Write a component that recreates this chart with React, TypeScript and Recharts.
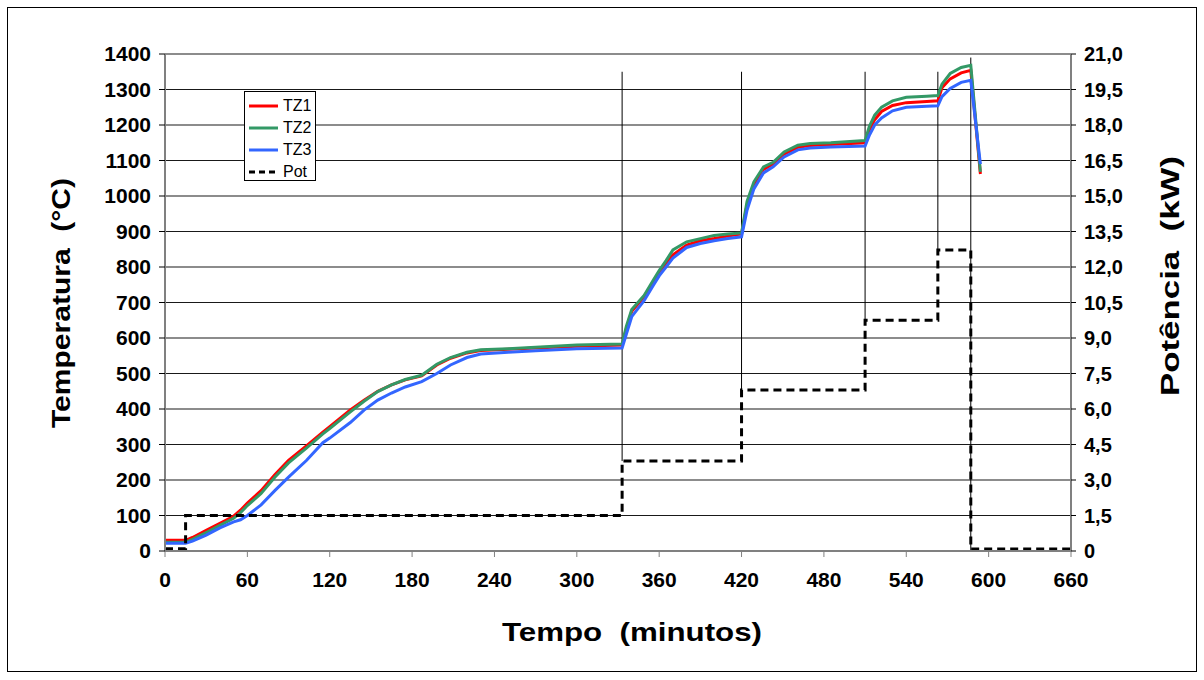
import { CartesianGrid, ComposedChart, Legend, Line, ReferenceLine, XAxis, YAxis } from 'recharts';

// temperature readings (°C) per zone, read at these minutes
const minutes = [
  0, 15, 20, 30, 40, 50, 55, 60, 70, 80, 90, 103, 115, 120, 135, 145, 155, 165, 175, 187, 198, 208, 220, 230,
  250, 270, 300, 333, 336, 340, 349, 356, 360, 365, 370, 380, 390, 400, 410, 420, 424, 429, 436, 443, 451, 461,
  470, 485, 510, 513, 517, 522, 530, 540, 555, 563, 566, 572, 580, 587, 594,
];
const tz1 = [
  30, 30, 38, 58, 78, 98, 115, 135, 170, 215, 255, 296, 335, 350, 397, 425, 450, 468, 482, 493, 524, 543, 558, 565,
  568, 572, 577, 580, 625, 675, 716, 760, 785, 810, 834, 862, 874, 880, 887, 893, 975, 1032, 1075, 1090, 1118, 1137,
  1142, 1145, 1150, 1185, 1215, 1238, 1255, 1263, 1266, 1268, 1305, 1330, 1347, 1354, 1062,
];
const tz2 = [
  25, 25, 33, 52, 72, 92, 108, 128, 162, 208, 248, 290, 330, 345, 392, 422, 449, 468, 483, 495, 526, 545, 560, 567,
  570, 574, 580, 583, 632, 680, 720, 765, 790, 818, 848, 871, 880, 889, 893, 896, 985, 1040, 1082, 1095, 1124, 1143,
  1148, 1150, 1156, 1195, 1228, 1250, 1268, 1278, 1281, 1283, 1315, 1345, 1362, 1368, 1068,
];
const tz3 = [
  22, 22, 28, 45, 65, 82, 88, 100, 130, 170, 208, 255, 305, 318, 362, 397, 425, 445, 462, 477, 500, 524, 545, 555,
  560, 564, 570, 572, 610, 660, 705, 750, 775, 800, 825, 855, 866, 874, 880, 885, 960, 1020, 1065, 1082, 1110, 1130,
  1135, 1138, 1141, 1170, 1200, 1220, 1240, 1250, 1253, 1254, 1280, 1303, 1320, 1326, 1090,
];

// furnace power (kW), step changes
const potMinutes = [0, 15, 333, 420, 510, 563, 587, 660];
const potKw = [0.1, 1.5, 3.8, 6.8, 9.75, 12.72, 0.08, 0.08];

// vertical marks at the power changes (top in °C)
const markMinutes = [333, 420, 510, 563, 587];
const markTop = [1350, 1350, 1350, 1350, 1390];
const markBottomKw = [3.8, 6.8, 9.75, 12.72, 0];

const tempTicks = [0, 100, 200, 300, 400, 500, 600, 700, 800, 900, 1000, 1100, 1200, 1300, 1400];
const potTicks = [0, 1.5, 3, 4.5, 6, 7.5, 9, 10.5, 12, 13.5, 15, 16.5, 18, 19.5, 21];
const timeTicks = [0, 60, 120, 180, 240, 300, 360, 420, 480, 540, 600, 660];

const series = [
  { key: 'tz1', name: 'TZ1', color: '#ff0000' },
  { key: 'tz2', name: 'TZ2', color: '#339966' },
  { key: 'tz3', name: 'TZ3', color: '#3366ff' },
];

type Row = { t: number; tz1?: number; tz2?: number; tz3?: number; pot?: number };

const rowMap = new Map<number, Row>();
minutes.forEach((t, i) => rowMap.set(t, { t, tz1: tz1[i], tz2: tz2[i], tz3: tz3[i] }));
potMinutes.forEach((t, i) => {
  const r = rowMap.get(t) ?? { t };
  r.pot = potKw[i];
  rowMap.set(t, r);
});
const data = [...rowMap.values()].sort((a, b) => a.t - b.t);

const FONT = '"Liberation Sans", Arial, sans-serif';
const tickStyle = { fontSize: 21, fontWeight: 700, fill: '#000', fontFamily: FONT };

function ChartLegend() {
  const items = [...series.map((s) => ({ name: s.name, color: s.color, dash: false })), { name: 'Pot', color: '#000', dash: true }];
  return (
    <div style={{ border: '1px solid #000', background: '#fff', width: 72, height: 90, boxSizing: 'border-box', padding: '3px 0 0 4px' }}>
      {items.map((it) => (
        <div key={it.name} style={{ display: 'flex', alignItems: 'center', height: 22, fontFamily: FONT, fontSize: 16, color: '#000' }}>
          <svg width={30} height={6} style={{ marginRight: 4 }}>
            <line x1={0} y1={3} x2={29} y2={3} stroke={it.color} strokeWidth={3} strokeDasharray={it.dash ? '6 4' : undefined} />
          </svg>
          {it.name}
        </div>
      ))}
    </div>
  );
}

export default function App() {
  return (
    <div style={{ position: 'absolute', left: 0, top: 0, width: 1204, height: 680, background: '#fff' }}>
      <div style={{ position: 'absolute', left: 7, top: 7, width: 1190, height: 665, border: '1px solid #000', boxSizing: 'border-box' }} />
      <ComposedChart width={1204} height={680} data={data} margin={{ top: 54, right: 0, bottom: 89, left: 0 }}>
        <CartesianGrid yAxisId="left" vertical={false} stroke="#000" strokeOpacity={0.9} />
        <XAxis
          dataKey="t"
          type="number"
          domain={[0, 660]}
          ticks={timeTicks}
          height={40}
          tick={tickStyle}
          tickSize={6}
          tickMargin={15}
          tickLine={{ stroke: '#808080' }}
          axisLine={{ stroke: '#808080', strokeWidth: 2 }}
          label={{
            content: () => (
              <text x={632} y={641} textAnchor="middle" fontFamily={FONT} fontWeight={700} fontSize={25} textLength={260} lengthAdjust="spacingAndGlyphs">
                {'Tempo\u00a0\u00a0(minutos)'}
              </text>
            ),
          }}
        />
        <YAxis
          yAxisId="left"
          domain={[0, 1400]}
          ticks={tempTicks}
          width={165}
          tick={tickStyle}
          tickSize={6}
          tickMargin={8}
          tickLine={{ stroke: '#000' }}
          axisLine={{ stroke: '#808080', strokeWidth: 2 }}
          label={{
            content: () => (
              <text x={70} y={303} transform="rotate(-90 70 303)" textAnchor="middle" fontFamily={FONT} fontWeight={700} fontSize={25} textLength={250} lengthAdjust="spacingAndGlyphs">
                {'Temperatura\u00a0\u00a0(°C)'}
              </text>
            ),
          }}
        />
        <YAxis
          yAxisId="right"
          orientation="right"
          domain={[0, 21]}
          ticks={potTicks}
          width={133}
          tick={{ ...tickStyle, fontSize: 20 }}
          tickSize={5}
          tickMargin={8}
          tickLine={{ stroke: '#000' }}
          tickFormatter={(v: number) => (v === 0 ? '0' : v.toFixed(1).replace('.', ','))}
          axisLine={{ stroke: '#808080', strokeWidth: 2 }}
          label={{
            content: () => (
              <text x={1179} y={276} transform="rotate(-90 1179 276)" textAnchor="middle" fontFamily={FONT} fontWeight={700} fontSize={25} textLength={240} lengthAdjust="spacingAndGlyphs">
                {'Potência\u00a0\u00a0(kW)'}
              </text>
            ),
          }}
        />
        {markMinutes.map((m, i) => (
          <ReferenceLine
            key={m}
            yAxisId="left"
            segment={[
              { x: m, y: markTop[i] },
              { x: m, y: (markBottomKw[i] * 1400) / 21 },
            ]}
            stroke="#000"
            strokeWidth={1}
          />
        ))}
        {series.map((s) => (
          <Line
            key={s.key}
            yAxisId="left"
            dataKey={s.key}
            name={s.name}
            type="linear"
            stroke={s.color}
            strokeWidth={3}
            dot={false}
            connectNulls
            isAnimationActive={false}
          />
        ))}
        <Line
          yAxisId="right"
          dataKey="pot"
          name="Pot"
          type="stepAfter"
          stroke="#000"
          strokeWidth={3}
          strokeDasharray="8 5"
          dot={false}
          connectNulls
          isAnimationActive={false}
        />
        <Legend
          layout="vertical"
          align="center"
          verticalAlign="middle"
          content={<ChartLegend />}
          wrapperStyle={{ position: 'absolute', left: 244, top: 91, width: 74, height: 92 }}
        />
      </ComposedChart>
    </div>
  );
}
